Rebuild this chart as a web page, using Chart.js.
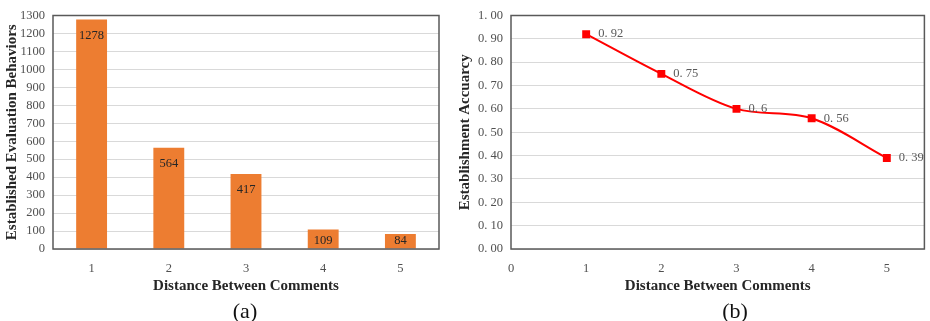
<!DOCTYPE html>
<html><head><meta charset="utf-8">
<script src="https://cdn.jsdelivr.net/npm/chart.js@4"></script>
<style>
html,body{margin:0;padding:0;background:#fff;width:930px;height:321px;overflow:hidden;}
body{position:relative;}
#ca{position:absolute;left:0;top:0;}
#cb{position:absolute;left:450px;top:0;}
.cap{position:absolute;top:300px;font:22px "Liberation Serif",serif;line-height:22px;color:#111;transform:translateX(-50%);white-space:nowrap;}
</style></head>
<body>
<canvas id="ca" width="460" height="321"></canvas>
<canvas id="cb" width="480" height="321"></canvas>
<div class="cap" style="left:245px">(a)</div>
<div class="cap" style="left:735px">(b)</div>
<script>
// ---- data ----
const categories = ['1', '2', '3', '4', '5'];
const evaluationCounts = [1278, 564, 417, 109, 84];
const distances = [1, 2, 3, 4, 5];
const accuracy = [0.92, 0.75, 0.6, 0.56, 0.39];
const accuracyXTicks = [0, 1, 2, 3, 4, 5];
const xTitle = 'Distance Between Comments';
const yTitleA = 'Established Evaluation Behaviors';
const yTitleB = 'Establishment Accuarcy';

// ---- styles ----
const SERIF = '"Liberation Serif", "Times New Roman", serif';
const tickFont = {family: SERIF, size: 12.5};
const titleFont = {family: SERIF, size: 15, weight: 'bold'};
const tickColor = '#505050';
const titleColor = '#262626';
const gridColor = '#d9d9d9';

const frame = {
  id: 'frame',
  afterDatasetsDraw(chart) {
    const a = chart.chartArea, c = chart.ctx;
    c.save();
    c.strokeStyle = '#595959';
    c.lineWidth = 1.5;
    c.strokeRect(a.left, a.top, a.right - a.left, a.bottom - a.top);
    c.restore();
  }
};

const barLabels = {
  id: 'barLabels',
  afterDatasetsDraw(chart) {
    const c = chart.ctx;
    const meta = chart.getDatasetMeta(0);
    const data = chart.data.datasets[0].data;
    c.save();
    c.font = '12.5px ' + SERIF;
    c.fillStyle = '#262626';
    c.textAlign = 'center';
    c.textBaseline = 'middle';
    meta.data.forEach((el, i) => {
      const y = Math.min(el.y + 16, el.base - 8);
      c.fillText(String(data[i]), el.x, y);
    });
    c.restore();
  }
};

const pointLabels = {
  id: 'pointLabels',
  afterDatasetsDraw(chart) {
    const c = chart.ctx;
    const meta = chart.getDatasetMeta(0);
    const data = chart.data.datasets[0].data;
    c.save();
    c.font = '12.5px ' + SERIF;
    c.fillStyle = '#595959';
    c.textAlign = 'left';
    c.textBaseline = 'middle';
    meta.data.forEach((el, i) => {
      c.fillText(String(data[i].y).replace('.', '. '), el.x + 12, el.y);
    });
    c.restore();
  }
};

new Chart(document.getElementById('ca'), {
  type: 'bar',
  data: {
    labels: categories,
    datasets: [{
      data: evaluationCounts,
      backgroundColor: '#ed7d31',
      borderWidth: 0,
      barPercentage: 0.4,
      categoryPercentage: 1.0
    }]
  },
  options: {
    responsive: false,
    animation: false,
    devicePixelRatio: 1,
    layout: {padding: {left: 0, right: 21, top: 15, bottom: 26}},
    plugins: {legend: {display: false}, tooltip: {enabled: false}},
    scales: {
      x: {
        grid: {display: false},
        border: {display: false},
        ticks: {font: tickFont, color: tickColor, padding: 4},
        title: {display: true, text: xTitle, font: titleFont, color: titleColor, padding: 0},
        afterFit(s) { s.height = 46; }
      },
      y: {
        min: 0, max: 1300,
        grid: {color: gridColor, drawTicks: false, lineWidth: 1},
        border: {display: false},
        ticks: {stepSize: 100, autoSkip: false, font: tickFont, color: tickColor, padding: 8,
          callback: v => String(v)},
        title: {display: true, text: yTitleA, font: titleFont, color: titleColor, padding: {top: 3, bottom: 0}},
        afterFit(s) { s.width = 53; }
      }
    }
  },
  plugins: [frame, barLabels]
});

new Chart(document.getElementById('cb'), {
  type: 'line',
  data: {
    datasets: [{
      data: distances.map((d, i) => ({x: d, y: accuracy[i]})),
      borderColor: '#ff0000',
      backgroundColor: '#ff0000',
      borderWidth: 2,
      pointStyle: 'rect',
      pointRadius: 5.6,
      pointBorderWidth: 0,
      tension: 0.33,
      fill: false
    }]
  },
  options: {
    responsive: false,
    animation: false,
    devicePixelRatio: 1,
    layout: {padding: {left: 0, right: 3, top: 15, bottom: 26}},
    plugins: {legend: {display: false}, tooltip: {enabled: false}},
    scales: {
      x: {
        type: 'linear',
        min: 0, max: 5.5,
        grid: {display: false},
        border: {display: false},
        afterBuildTicks(s) { s.ticks = accuracyXTicks.map(v => ({value: v})); },
        ticks: {font: tickFont, color: tickColor, padding: 4, autoSkip: false},
        title: {display: true, text: xTitle, font: titleFont, color: titleColor, padding: 0},
        afterFit(s) { s.height = 46; }
      },
      y: {
        min: 0, max: 1,
        grid: {color: gridColor, drawTicks: false, lineWidth: 1},
        border: {display: false},
        ticks: {stepSize: 0.1, autoSkip: false, font: tickFont, color: tickColor, padding: 8,
          callback: v => Number(v).toFixed(2).replace('.', '. ')},
        title: {display: true, text: yTitleB, font: titleFont, color: titleColor, padding: {top: 6, bottom: 0}},
        afterFit(s) { s.width = 61; }
      }
    }
  },
  plugins: [frame, pointLabels]
});
</script>
</body></html>
